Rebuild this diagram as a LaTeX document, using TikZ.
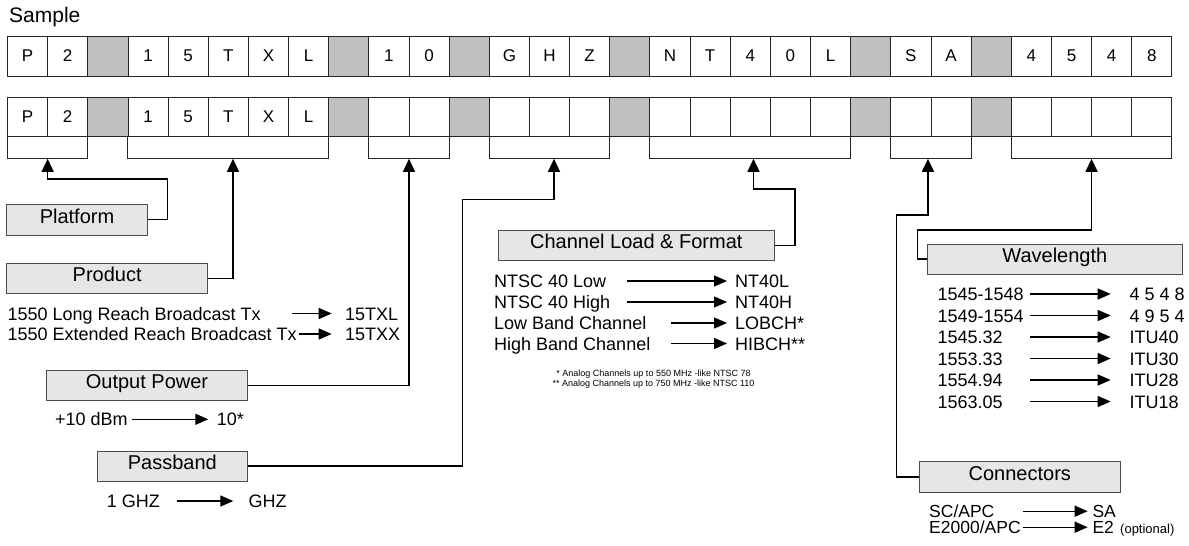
\documentclass[tikz,border=0pt]{standalone}
\usepackage{fontspec}
\setmainfont{Liberation Sans}
\usetikzlibrary{arrows.meta,calc}
\definecolor{cellgray}{HTML}{C0C0C0}
\definecolor{boxgray}{HTML}{E6E6E6}
\begin{document}
\begin{tikzpicture}[x=1pt,y=-1pt,
  cell/.style={draw=black!85,line width=0.9pt,minimum width=40.15pt,minimum height=40pt,inner sep=0pt,font=\fontsize{17}{20}\selectfont},
  cellb/.style={cell,minimum height=39.4pt},
  bracket/.style={draw=black!85,line width=1pt,minimum height=21.6pt,inner sep=0pt},
  catbox/.style={draw=black!70,fill=boxgray,line width=0.9pt,inner sep=0pt,font=\fontsize{20}{24}\selectfont,text height=0.72em,text depth=0pt},
  conn/.style={line width=1.4pt,-{Triangle[length=13pt,width=12pt]}},
  maparrow/.style={line width=1.3pt,-{Triangle[length=13pt,width=11pt]}},
  txt/.style={anchor=base west,inner sep=0pt,font=\fontsize{18}{20}\selectfont},
  tighttxt/.style={anchor=base west,inner sep=0pt,font=\fontsize{17.5}{19}\selectfont,text depth=0pt},
  fnote/.style={anchor=base,inner sep=0pt,font=\fontsize{9}{10}\selectfont},
]
\useasboundingbox (0,0) rectangle (1189,546);

\node[anchor=base west,inner sep=0pt,font=\fontsize{21}{24}\selectfont] (title) at (9,22) {Sample};

% top row
\foreach \t/\f [count=\n from 0] in {P/white,2/white,{}/cellgray,1/white,5/white,T/white,X/white,L/white,{}/cellgray,1/white,0/white,{}/cellgray,G/white,H/white,Z/white,{}/cellgray,N/white,T/white,4/white,0/white,L/white,{}/cellgray,S/white,A/white,{}/cellgray,4/white,5/white,4/white,8/white}
  \node[cell,fill=\f] (t\n) at ({7.5+40.15*(\n+0.5)},56) {\t};

% second row
\foreach \t/\f [count=\n from 0] in {P/white,2/white,{}/cellgray,1/white,5/white,T/white,X/white,L/white,{}/cellgray,{}/white,{}/white,{}/cellgray,{}/white,{}/white,{}/white,{}/cellgray,{}/white,{}/white,{}/white,{}/white,{}/white,{}/cellgray,{}/white,{}/white,{}/cellgray,{}/white,{}/white,{}/white,{}/white}
  \node[cellb,fill=\f] (b\n) at ({7.5+40.15*(\n+0.5)},117) {\t};

% brackets
\node[bracket,minimum width=80.3pt]  (g1) at (47.65,147.5) {};
\node[bracket,minimum width=200.75pt] (g2) at (228.3,147.5) {};
\node[bracket,minimum width=80.3pt]  (g3) at (409,147.5) {};
\node[bracket,minimum width=120.45pt] (g4) at (549.5,147.5) {};
\node[bracket,minimum width=200.75pt] (g5) at (750.3,147.5) {};
\node[bracket,minimum width=80.3pt]  (g6) at (930.95,147.5) {};
\node[bracket,minimum width=160.6pt] (g7) at (1091.55,147.5) {};

% category boxes
\node[catbox,minimum width=140.6pt,minimum height=30.7pt] (plat) at (77,219.65) {Platform};
\node[catbox,minimum width=201pt,minimum height=30pt] (prod) at (107.2,278.3) {Product};
\node[catbox,minimum width=200.6pt,minimum height=29.3pt] (outp) at (147,385.35) {Output Power};
\node[catbox,minimum width=150pt,minimum height=30pt] (pass) at (172.3,466) {Passband};
\node[catbox,minimum width=276pt,minimum height=29.3pt] (chan) at (636.3,245.35) {Channel Load \& Format};
\node[catbox,minimum width=254.3pt,minimum height=30pt] (wave) at (1054.85,259) {Wavelength};
\node[catbox,minimum width=201pt,minimum height=30.6pt] (cnx) at (1019.8,477) {Connectors};

% bend points
\coordinate (w1) at (167.7,179);
\coordinate (w4) at (462.7,199.3);
\coordinate (w5) at (795,189);
\coordinate (w6) at (896.7,215);
\coordinate (w7) at (917.3,230);

% connectors
\draw[conn] (plat.east) -| (w1) -| (g1.south);
\draw[conn] (prod.east) -| ([xshift=4.7pt]g2.south);
\draw[conn] (outp.east) -| (g3.south);
\draw[conn] (pass.east) -| (w4) -| ([xshift=4.5pt]g4.south);
\draw[conn] (chan.east) -| (w5) -| ([xshift=3.2pt]g5.south);
\draw[conn] (cnx.west) -| (w6) -| ([xshift=-3pt]g6.south);
\draw[conn] (wave.west) -| (w7) -| (g7.south);

% product list
\node[txt] (pl1) at (7.3,320) {1550 Long Reach Broadcast Tx};
\node[txt] (pl2) at (7.3,340.5) {1550 Extended Reach Broadcast Tx};
\node[txt] (pr1) at (345,320) {15TXL};
\node[txt] (pr2) at (345,340.5) {15TXX};
\coordinate (pa1) at (292.3,313.5);
\coordinate (pa2) at (299,334);
\draw[maparrow] (pa1) -- ([shift={(-13.3pt,6.5pt)}]pr1.base west);
\draw[maparrow] (pa2) -- ([shift={(-13.3pt,6.5pt)}]pr2.base west);

% output power
\node[txt] (ol1) at (55,425.8) {+10 dBm};
\node[txt] (or1) at (216.7,425.8) {10*};
\draw[maparrow] ([shift={(4pt,6.5pt)}]ol1.base east) -- ([shift={(-8.4pt,6.5pt)}]or1.base west);

% passband
\node[txt] (sl1) at (106.7,507.5) {1 GHZ};
\node[txt] (sr1) at (248.3,507.5) {GHZ};
\coordinate (sa1) at (176.7,501);
\draw[maparrow] (sa1) -- ([shift={(-15pt,6.5pt)}]sr1.base west);

% channel list
\node[txt] (cl1) at (494,287.5) {NTSC 40 Low};
\node[txt] (cl2) at (494,308.5) {NTSC 40 High};
\node[txt] (cl3) at (494,329.5) {Low Band Channel};
\node[txt] (cl4) at (494,350) {High Band Channel};
\node[txt] (cr1) at (735,287.5) {NT40L};
\node[txt] (cr2) at (735,308.5) {NT40H};
\node[txt] (cr3) at (735,329.5) {LOBCH*};
\node[txt] (cr4) at (735,350) {HIBCH**};
\coordinate (ca1) at (627,281);
\coordinate (ca2) at (627,302);
\coordinate (ca3) at (671,323);
\coordinate (ca4) at (671,343.5);
\draw[maparrow] (ca1) -- ([shift={(-8pt,6.5pt)}]cr1.base west);
\draw[maparrow] (ca2) -- ([shift={(-8pt,6.5pt)}]cr2.base west);
\draw[maparrow] (ca3) -- ([shift={(-8pt,6.5pt)}]cr3.base west);
\draw[maparrow] (ca4) -- ([shift={(-8pt,6.5pt)}]cr4.base west);
\node[fnote] (fn1) at (653.5,376.5) {* Analog Channels up to 550 MHz -like NTSC 78};
\node[fnote] (fn2) at (653.5,386.5) {** Analog Channels up to 750 MHz -like NTSC 110};

% wavelength list
\foreach \a/\b [count=\n from 0] in {1545-1548/4 5 4 8,1549-1554/4 9 5 4,1545.32/ITU40,1553.33/ITU30,1554.94/ITU28,1563.05/ITU18}{
  \node[txt] (wl\n) at (937.3,{300.5+21.5*\n}) {\a};
  \node[txt] (wr\n) at (1129.3,{300.5+21.5*\n}) {\b};
  \coordinate (wa\n) at (1030,{294+21.5*\n});
  \draw[maparrow] (wa\n) -- ([shift={(-18.6pt,6.5pt)}]wr\n.base west);
}

% connectors list
\node[tighttxt] (kl1) at (929,517.5) {SC/APC};
\node[tighttxt] (kl2) at (929,533.5) {E2000/APC};
\node[tighttxt] (kr1) at (1092.3,517.5) {SA};
\node[tighttxt] (kr2) at (1092.3,533.5) {E2};
\node[anchor=base west,inner sep=0pt,font=\fontsize{13}{14}\selectfont] (opt) at (1120,533.5) {(optional)};
\coordinate (ka1) at (1023.3,511.2);
\coordinate (ka2) at (1023.3,527.2);
\draw[maparrow] (ka1) -- ([shift={(-4.6pt,6.3pt)}]kr1.base west);
\draw[maparrow] (ka2) -- ([shift={(-4.6pt,6.3pt)}]kr2.base west);
\end{tikzpicture}
\end{document}
